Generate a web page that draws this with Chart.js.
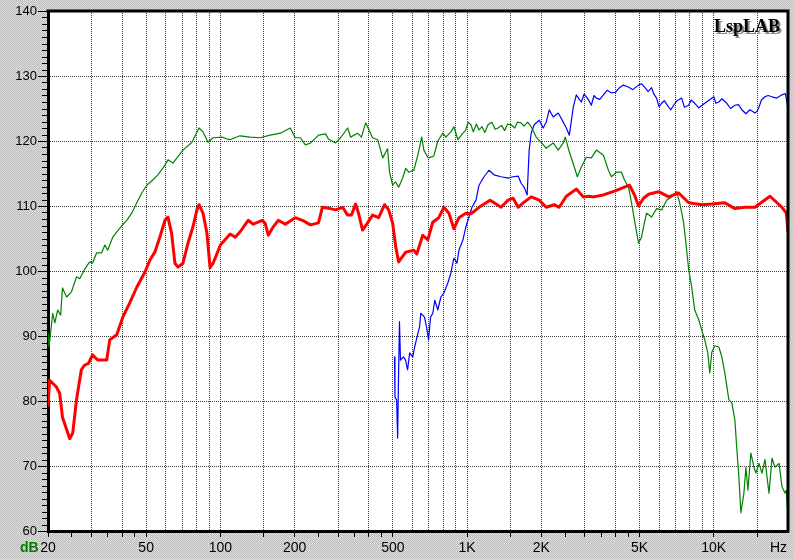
<!DOCTYPE html>
<html>
<head>
<meta charset="utf-8">
<script src="https://cdn.jsdelivr.net/npm/chart.js@4"></script>
<style>
  body { margin: 0; background: #d0d0d0; }
  canvas { display: block; }
</style>
</head>
<body>
<canvas id="chart" width="793" height="559"></canvas>
<script>
"use strict";

// [Hz, dB]
const redCurve = [[20,79.1],[20.3,83.2],[21.6,82.2],[22.3,81.2],[22.9,77.5],[24.5,74.2],[25.2,75.1],[26.1,80.2],[27.3,84.8],[28.1,85.5],[29.2,85.8],[30.3,87.1],[31.8,86.3],[34.6,86.3],[35.6,89.4],[38,90.2],[40.2,92.9],[42.9,95.1],[45.8,97.5],[49.4,99.8],[51.8,101.7],[54.2,102.9],[56.8,105.2],[59.6,107.8],[61.3,108.3],[63.4,105.8],[65.4,101.2],[67.3,100.6],[70.5,101.2],[73.9,104.3],[77.4,106.8],[80.3,109.4],[81.9,110.2],[85,108.9],[88.2,105.8],[90.8,100.5],[93.4,101.2],[100,104],[109.5,105.7],[114.8,105.2],[120,106],[129.6,107.8],[135.8,107.2],[147.8,107.8],[152,107.3],[156.3,105.5],[163.8,106.8],[171.6,107.8],[183.3,107.2],[201,108.2],[215,107.8],[231.6,107.1],[249.7,107.4],[259,109.8],[279,109.6],[293,109.4],[313,109.8],[328,108.6],[340,108.6],[353,110.3],[363,108.9],[377,106.3],[395,107.4],[414,108.6],[438,108.2],[463,110.2],[481,109.4],[499,107.4],[514,103.7],[528,101.4],[564,102.9],[608,103.2],[625,102.6],[661,105.5],[693,104.8],[726,107.5],[768,108.2],[805,109.8],[844,108.9],[884,106.5],[927,108.2],[989,108.9],[1037,108.8],[1118,109.8],[1239,110.9],[1274,110.6],[1373,109.8],[1466,110.9],[1537,111.2],[1611,109.8],[1703,110.6],[1819,111.4],[1961,110.9],[2093,109.8],[2256,110.2],[2364,109.8],[2525,111.5],[2772,112.6],[2960,111.4],[3132,111.5],[3250,111.4],[3570,111.7],[3957,112.3],[4346,112.9],[4555,113.2],[4773,111.7],[4955,110],[5193,111.2],[5443,111.8],[5977,112.2],[6564,111.4],[7208,112],[7916,110.5],[8940,110.2],[9818,110.3],[11090,110.5],[12180,109.6],[13376,109.8],[14690,109.8],[16906,111.5],[18915,109.8],[19700,108.9],[20000,106]];

const greenCurve = [[20,90.5],[20.2,88.3],[20.9,93.5],[21.3,92],[21.9,94],[22.5,93.2],[22.9,97.4],[23.8,96],[24.9,96.8],[26.1,99.1],[26.9,98.8],[28.1,100.2],[29.5,101.4],[30.3,101.2],[31.5,102.8],[33,102.8],[34,104],[34.9,103.2],[36.6,105.2],[39.1,106.6],[41.7,107.8],[43.7,108.9],[45.8,110.5],[48,112],[50.3,113.2],[53.2,114],[55.8,114.8],[59.6,116.3],[61.3,117.1],[64.2,116.6],[70.5,118.6],[76.7,119.8],[81.9,122],[85,121.4],[89.1,119.8],[93.4,120.5],[101.6,120.6],[106.5,120.3],[109.5,120.2],[120,120.8],[132,120.6],[145,120.5],[159,120.9],[175,121.2],[192,122],[201,120.5],[211,120.5],[221,119.4],[232,119.7],[250,120.9],[267,121.1],[274,120.3],[293,119.7],[307,120.5],[328,122],[337,120.6],[360,121.2],[373,120.6],[388,122.8],[414,120.5],[434,120.2],[455,117.4],[476,118.8],[485,115.2],[499,113.2],[513,113.7],[528,112.9],[548,114.3],[564,115.8],[580,115.2],[608,115.5],[631,117.8],[655,120.6],[668,118.6],[693,117.5],[700,117.4],[733,117.7],[761,120],[798,121.2],[820,120.6],[860,121.4],[884,122.2],[918,120.2],[962,121.2],[985,121.6],[1010,122.9],[1037,122.5],[1060,121.4],[1090,122.6],[1118,121.7],[1150,122.2],[1180,121.3],[1216,122.5],[1260,122.9],[1300,121.8],[1335,122],[1380,122.4],[1420,121.6],[1460,122.6],[1508,122.5],[1560,122],[1600,122.9],[1656,122.8],[1700,122.3],[1760,122.9],[1819,122.2],[1906,120.6],[1997,119.8],[2093,118.9],[2235,119.7],[2342,118.6],[2455,119.7],[2501,120.6],[2597,118.3],[2721,116],[2798,114.5],[2905,116],[3044,117.5],[3190,117.4],[3343,118.6],[3570,117.8],[3741,115.5],[3847,114.5],[4032,115.2],[4225,115.2],[4346,114],[4512,112.9],[4640,110.5],[4773,107.8],[4955,104.3],[5096,105.2],[5193,106.8],[5341,108.9],[5596,108.3],[5865,109.6],[6146,109.4],[6441,110.9],[6749,111.4],[7073,112.2],[7275,110.5],[7553,107.4],[7768,103.2],[7916,100.2],[8140,97.5],[8373,94],[8694,92.5],[8940,90.9],[9196,89.4],[9459,87.4],[9637,84.3],[9818,87.5],[10099,88.5],[10486,88.3],[10782,86.8],[11090,84.3],[11515,80.2],[11841,79.7],[12180,77.1],[12410,72.5],[12646,68.3],[12883,62.8],[13251,65.8],[13501,69.8],[13758,66.3],[14148,72],[14552,69.8],[14826,68.9],[15252,70.4],[15683,68.9],[16132,71],[16749,65.8],[17224,71.2],[17717,69.8],[18395,70.4],[18915,66.8],[19456,65.8],[19700,66.3],[19900,63.2],[20000,66.8]];

const blueCurve = [[508,86.8],[510,80.6],[518,80.2],[523,74.3],[527,83],[532,92.2],[537,86.3],[552,86.8],[563,86.3],[574,84.8],[585,87.4],[602,86.8],[613,88.3],[630,90.2],[642,91.4],[649,93.5],[672,92.9],[685,91.4],[698,89.4],[711,92.9],[726,93.5],[740,95.5],[761,94],[783,96],[805,96.6],[836,98.2],[860,99.7],[884,102],[910,101.2],[927,103.2],[962,104.8],[989,106.8],[1018,108.3],[1047,109.8],[1087,110.9],[1118,113.2],[1171,114.5],[1227,115.5],[1286,114.8],[1373,114.5],[1466,114.3],[1537,114.5],[1611,114.6],[1656,113.5],[1703,112.9],[1752,111.7],[1785,118.6],[1819,121.2],[1871,122.5],[1961,123.2],[2035,122],[2093,122.9],[2153,124.8],[2235,123.7],[2342,124.3],[2455,122.9],[2525,122],[2597,120.9],[2695,125.2],[2772,127.1],[2850,126.4],[2905,126],[2980,127.2],[3044,126.8],[3120,126.2],[3190,125.5],[3270,127],[3343,126.6],[3450,126.4],[3570,127.1],[3700,127.8],[3847,127.4],[4000,127.5],[4147,128.2],[4300,128.6],[4512,128.3],[4700,127.9],[4955,128.6],[5100,128.8],[5242,128.3],[5420,127.6],[5596,128.2],[5720,127.2],[5865,126.6],[6000,125.3],[6146,125.8],[6300,126.2],[6564,125.2],[6700,124.8],[6877,125.5],[7100,126.2],[7412,126.6],[7600,125.2],[7916,125.5],[8100,126.3],[8373,125.8],[8700,125.1],[9196,125.8],[9500,126.2],[10005,126.8],[10200,125.8],[10486,126],[10800,126.5],[11300,125.8],[11700,125],[12180,125.5],[12600,125.6],[13004,124.8],[13500,124.2],[14018,124.8],[14690,124.3],[15000,124.6],[15252,125.2],[15600,126.3],[16132,126.8],[16600,127],[17224,126.8],[18000,126.6],[18915,127.1],[19500,127.3],[19800,126],[20000,124.8]];

const freqTicks = [20,25,30,35,40,45,50,60,70,80,90,100,150,200,250,300,350,400,450,500,600,700,800,900,1000,1500,2000,2500,3000,3500,4000,4500,5000,6000,7000,8000,9000,10000,15000];
const gridFreqs = [30,40,50,60,70,80,90,100,150,200,300,400,500,600,700,800,900,1000,1500,2000,3000,4000,5000,6000,7000,8000,9000,10000,15000];
const markFreqs = [20,25,30,35,40,45,50,100,150,200,250,300,350,400,450,500,1000,1500,2000,2500,3000,3500,4000,4500,5000,10000,15000];
const freqLabels = {20: "20", 50: "50", 100: "100", 200: "200", 500: "500", 1000: "1K", 2000: "2K", 5000: "5K", 10000: "10K"};

function toXY(pts) {
    return pts.map(p => ({x: p[0], y: p[1]}))
}

// dotted grey backdrop like the original window
const pat = document.createElement("canvas")
pat.width = 2
pat.height = 2
const pctx = pat.getContext("2d")
pctx.fillStyle = "#e2e2e2"
pctx.fillRect(0, 0, 2, 2)
pctx.fillStyle = "#b8b8b8"
pctx.fillRect(0, 0, 1, 1)
pctx.fillRect(1, 1, 1, 1)

const frame = {
    id: "frame",
    beforeDraw(chart) {
        const c = chart.ctx
        const a = chart.chartArea
        c.save()
        c.fillStyle = c.createPattern(pat, "repeat")
        c.fillRect(0, 0, chart.width, chart.height)
        c.fillStyle = "#fff"
        c.fillRect(a.left, a.top, a.right - a.left, a.bottom - a.top)
        c.restore()
    },
    afterDraw(chart) {
        const c = chart.ctx
        const a = chart.chartArea
        const y = chart.scales.y
        c.save()
        // minor dB ticks
        c.strokeStyle = "#000"
        c.lineWidth = 1
        c.beginPath()
        for (let v = 61; v < 140; v++) {
            if (v % 10 === 0) continue
            const py = Math.round(y.getPixelForValue(v)) + 0.5
            c.moveTo(a.left - 6, py)
            c.lineTo(a.left, py)
        }
        c.stroke()
        // top and right frame
        c.lineWidth = 3
        c.beginPath()
        c.moveTo(a.left - 1.5, a.top)
        c.lineTo(a.right, a.top)
        c.lineTo(a.right, a.bottom + 1.5)
        c.stroke()
        // unit labels
        c.font = "14px 'Liberation Sans', Arial, sans-serif"
        c.textBaseline = "alphabetic"
        c.textAlign = "right"
        c.fillStyle = "#000"
        c.fillText("Hz", a.right - 1, 552)
        c.font = "bold 14px 'Liberation Sans', Arial, sans-serif"
        c.textAlign = "left"
        c.fillStyle = "#008000"
        c.fillText("dB", 20, 552)
        // logo
        c.font = "bold 18px 'Liberation Serif', 'Times New Roman', serif"
        c.textAlign = "right"
        c.fillStyle = "#8a8a8a"
        c.fillText("LspLAB", 782, 34)
        c.fillStyle = "#000"
        c.fillText("LspLAB", 780, 32)
        c.restore()
    }
}

const data = {
    datasets: [
        {label: "red", data: toXY(redCurve), borderColor: "#ff0000", borderWidth: 3},
        {label: "green", data: toXY(greenCurve), borderColor: "#008000", borderWidth: 1.2},
        {label: "blue", data: toXY(blueCurve), borderColor: "#0000ff", borderWidth: 1.2}
    ]
}

const config = {
    type: "line",
    data: data,
    options: {
        responsive: false,
        animation: false,
        devicePixelRatio: 1,
        layout: {padding: {top: 11, right: 5, left: 0, bottom: 0}},
        elements: {
            point: {radius: 0},
            line: {tension: 0, borderJoinStyle: "round"}
        },
        plugins: {legend: {display: false}, tooltip: {enabled: false}},
        scales: {
            x: {
                type: "logarithmic",
                min: 20,
                max: 20000,
                afterBuildTicks: s => { s.ticks = freqTicks.map(v => ({value: v})) },
                afterFit: s => { s.height = 28 },
                ticks: {
                    autoSkip: false,
                    maxRotation: 0,
                    padding: 3,
                    color: "#000",
                    font: {family: "'Liberation Sans', Arial, sans-serif", size: 14},
                    callback: v => freqLabels[v] || ""
                },
                grid: {
                    color: ctx => gridFreqs.includes(ctx.tick && ctx.tick.value) ? "#3c3c3c" : "rgba(0,0,0,0)",
                    tickColor: ctx => markFreqs.includes(ctx.tick && ctx.tick.value) ? "#000" : "rgba(0,0,0,0)",
                    tickLength: 6,
                    lineWidth: 1
                },
                border: {color: "#000", width: 3, dash: [1, 1]}
            },
            y: {
                type: "linear",
                min: 60,
                max: 140,
                afterFit: s => { s.width = 48 },
                ticks: {
                    stepSize: 10,
                    padding: 1,
                    color: "#000",
                    font: {family: "'Liberation Sans', Arial, sans-serif", size: 13}
                },
                grid: {color: "#3c3c3c", tickColor: "#000", tickLength: 10, lineWidth: 1},
                border: {color: "#000", width: 3, dash: [1, 1]}
            }
        }
    },
    plugins: [frame]
}

new Chart(document.getElementById("chart"), config)
</script>
</body>
</html>
